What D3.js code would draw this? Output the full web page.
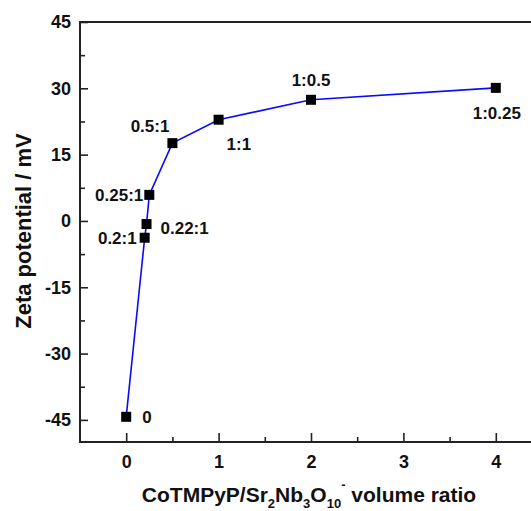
<!DOCTYPE html>
<html>
<head>
<meta charset="utf-8">
<script src="https://cdn.jsdelivr.net/npm/d3@7"></script>
<style>
  body { margin: 0; background: #fff; overflow: hidden; }
  svg { display: block; font-family: "Liberation Sans", Arial, sans-serif; font-weight: bold; }
</style>
</head>
<body>
<div id="chart"></div>
<script>
// volume ratio (x) and zeta potential in mV (y)
const ratios = [0, 0.2, 0.22, 0.25, 0.5, 1, 2, 4];
const zeta = [-44.3, -3.8, -0.7, 5.9, 17.6, 22.9, 27.4, 30.1];
const pointLabels = ["0", "0.2:1", "0.22:1", "0.25:1", "0.5:1", "1:1", "1:0.5", "1:0.25"];
const xTicks = [0, 1, 2, 3, 4];
const yTicks = [-45, -30, -15, 0, 15, 30, 45];

// label placement relative to each marker: [dx, dy, anchor]
const labelPlace = [
  [16, 0, "start"],
  [-8, 0, "end"],
  [14, 4, "start"],
  [-6, 0, "end"],
  [-3, -17, "end"],
  [8, 24, "start"],
  [0, -20, "middle"],
  [1, 25, "middle"]
];

const W = 531, H = 511;
const margin = { top: 22, left: 80, bottom: 69, right: -11 };
const width = W - margin.left - margin.right,
  height = H - margin.top - margin.bottom;

const svg = d3.select("#chart")
  .append("svg")
  .attr("width", W)
  .attr("height", H);

const g = svg.append("g")
  .attr("transform", "translate(" + margin.left + "," + margin.top + ")");

const x = d3.scaleLinear().domain([-0.5, 4.5]).range([0, width]);
const y = d3.scaleLinear().domain([-50, 45]).range([height, 0]);

// plain hyphen for negatives, like the original
const fmt = d => String(d);

// minor ticks first
g.append("g")
  .attr("transform", "translate(0," + height + ")")
  .call(d3.axisBottom(x).tickValues([0.5, 1.5, 2.5, 3.5]).tickSize(-5).tickSizeOuter(0).tickFormat(""))
  .call(a => a.select(".domain").remove());
g.append("g")
  .call(d3.axisLeft(y).tickValues([-37.5, -22.5, -7.5, 7.5, 22.5, 37.5]).tickSize(-5).tickSizeOuter(0).tickFormat(""))
  .call(a => a.select(".domain").remove());

// major axes
const xAxis = g.append("g")
  .attr("transform", "translate(0," + height + ")")
  .call(d3.axisBottom(x).tickValues(xTicks).tickSize(-9).tickSizeOuter(0).tickPadding(13).tickFormat(fmt));
const yAxis = g.append("g")
  .call(d3.axisLeft(y).tickValues(yTicks).tickSize(-8).tickSizeOuter(0).tickPadding(9).tickFormat(fmt));

[xAxis, yAxis].forEach(a => {
  a.select(".domain").remove();
  a.selectAll(".tick text")
    .attr("fill", "#111")
    .style("font-size", "18px")
    .style("font-weight", "bold")
    .style("font-family", "'Liberation Sans', Arial, sans-serif");
});
g.selectAll(".tick line").attr("stroke", "#222").attr("stroke-width", 1.6);

// frame
g.append("rect")
  .attr("x", 0).attr("y", 0)
  .attr("width", width).attr("height", height)
  .attr("fill", "none")
  .attr("stroke", "#222")
  .attr("stroke-width", 2);

const pts = ratios.map((r, i) => ({ r: r, z: zeta[i], label: pointLabels[i], place: labelPlace[i] }));

// line
g.append("path")
  .datum(pts)
  .attr("fill", "none")
  .attr("stroke", "#0a0aff")
  .attr("stroke-width", 1.6)
  .attr("d", d3.line().x(d => x(d.r)).y(d => y(d.z)));

// markers
const ms = 10;
g.selectAll("rect.pt")
  .data(pts)
  .join("rect")
  .attr("class", "pt")
  .attr("x", d => x(d.r) - ms / 2)
  .attr("y", d => y(d.z) - ms / 2)
  .attr("width", ms)
  .attr("height", ms)
  .attr("fill", "#000");

// point labels
g.selectAll("text.lbl")
  .data(pts)
  .join("text")
  .attr("class", "lbl")
  .attr("x", d => x(d.r) + d.place[0])
  .attr("y", d => y(d.z) + d.place[1])
  .attr("dy", "0.36em")
  .attr("text-anchor", d => d.place[2])
  .attr("fill", "#111")
  .style("font-size", "17px")
  .text(d => d.label);

// y title
svg.append("text")
  .attr("transform", "translate(31,231) rotate(-90)")
  .attr("text-anchor", "middle")
  .attr("fill", "#111")
  .style("font-size", "22px")
  .text("Zeta potential / mV");

// x title with sub/superscripts
const xt = svg.append("text")
  .attr("x", 309)
  .attr("y", 502)
  .attr("text-anchor", "middle")
  .attr("fill", "#111")
  .style("font-size", "21px");
xt.append("tspan").text("CoTMPyP/Sr");
xt.append("tspan").attr("dy", 6).style("font-size", "13px").text("2");
xt.append("tspan").attr("dy", -6).text("Nb");
xt.append("tspan").attr("dy", 6).style("font-size", "13px").text("3");
xt.append("tspan").attr("dy", -6).text("O");
xt.append("tspan").attr("dy", 6).style("font-size", "13px").text("10");
xt.append("tspan").attr("dy", -19).style("font-size", "13px").text("-");
xt.append("tspan").attr("dy", 13).text(" volume ratio");
</script>
</body>
</html>
